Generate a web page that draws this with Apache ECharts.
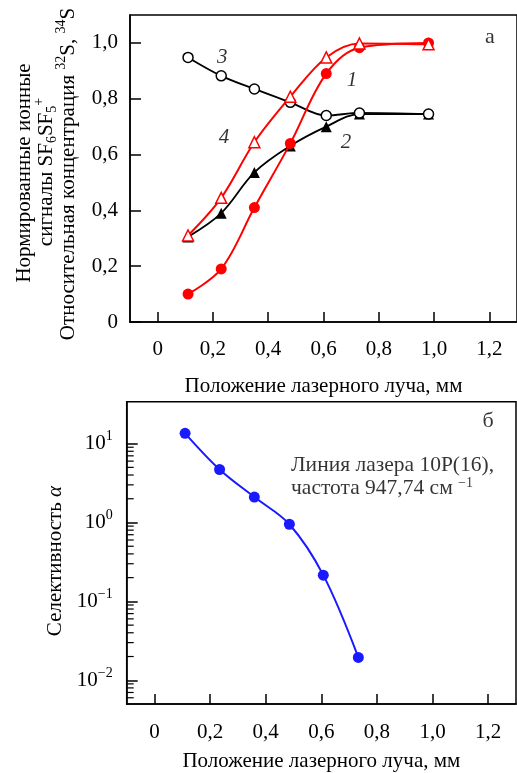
<!DOCTYPE html>
<html><head><meta charset="utf-8">
<script src="https://cdn.jsdelivr.net/npm/echarts@6/dist/echarts.min.js"></script>
<style>html,body{margin:0;padding:0;background:#fff}#c{width:517px;height:773px}</style>
</head><body><div id="c"></div>
<script>
// ---- data (top panel "а") ----
const positions = [0.11, 0.23, 0.35, 0.48, 0.61, 0.73, 0.98];
const curve1 = [0.10, 0.19, 0.41, 0.64, 0.89, 0.983, 1.0];     // red filled circles
const curve2 = [0.305, 0.39, 0.536, 0.631, 0.70, 0.745, 0.745]; // black filled triangles
const curve3 = [0.948, 0.882, 0.835, 0.787, 0.740, 0.749, 0.745]; // black open circles
const curve4 = [0.31, 0.445, 0.644, 0.807, 0.948, 0.998, 0.995]; // red open triangles
// ---- data (bottom panel "б") ----
const selPositions = [0.11, 0.234, 0.359, 0.485, 0.607, 0.733];
const selectivity = [13.5, 4.7, 2.1, 0.95, 0.215, 0.0195];
// ---- ticks ----
const xTicks = [0, 0.2, 0.4, 0.6, 0.8, 1.0, 1.2];
const yTicksTop = [0, 0.2, 0.4, 0.6, 0.8, 1.0];
const minorLogTicks = [0.006, 0.007, 0.008, 0.009,
  0.02, 0.03, 0.04, 0.05, 0.06, 0.07, 0.08, 0.09,
  0.2, 0.3, 0.4, 0.5, 0.6, 0.7, 0.8, 0.9,
  2, 3, 4, 5, 6, 7, 8, 9];
// ---- annotations ----
const topNotes = [
  {name: '3', value: [0.234, 0.947]},
  {name: '1', value: [0.703, 0.867]},
  {name: '4', value: [0.240, 0.660]},
  {name: '2', value: [0.681, 0.644]}
];
const topPanelLabel = [{name: 'а', value: [1.202, 1.021]}];
const botPanelLabel = [{name: 'б', value: [1.2, 19.2]}];
const botNote = [{name: 'note', value: [0.491, 3.8]}];

const FONT = '"Liberation Serif", "Times New Roman", serif';
const FS = 21;
const BLACK = '#000';
const RED = '#ff0000';
const BLUE = '#1a1aff';
const fmtX = v => v === 0 ? '0' : Number(v).toFixed(1).replace('.', ',');
function logLabel(v) {
  const e = Math.round(Math.log10(v));
  return '{b|10}{s|' + (e < 0 ? '\u2212' + (-e) : String(e)) + '}';
}
const txt = {fontFamily: FONT, fontSize: FS, color: BLACK};

const chart = echarts.init(document.getElementById('c'), null, {renderer: 'canvas'});

const axisLine = {onZero: false, lineStyle: {color: BLACK, width: 1.5}};
const tickStyle = {color: BLACK, width: 1.5};

const option = {
  animation: false,
  backgroundColor: '#fff',
  grid: [
    {left: 130, top: 15, width: 390.6, height: 307, show: true, borderColor: BLACK, borderWidth: 1.5, containLabel: false},
    {left: 126.7, top: 401.7, width: 389.3, height: 306, show: true, borderColor: BLACK, borderWidth: 1.5, containLabel: false}
  ],
  xAxis: [
    {
      gridIndex: 0, type: 'value', min: -0.1, max: 1.3,
      axisLine: axisLine,
      axisTick: {inside: true, length: 10, customValues: xTicks, lineStyle: tickStyle},
      axisLabel: Object.assign({customValues: xTicks, formatter: fmtX, margin: 17}, txt),
      splitLine: {show: false},
      name: 'Положение лазерного луча, мм', nameLocation: 'middle', nameGap: 54,
      nameTextStyle: txt
    },
    {
      gridIndex: 1, type: 'value', min: -0.1, max: 1.3,
      axisLine: axisLine,
      axisTick: {inside: true, length: 10, customValues: xTicks, lineStyle: tickStyle},
      axisLabel: Object.assign({customValues: xTicks, formatter: fmtX, margin: 18}, txt),
      splitLine: {show: false},
      name: 'Положение лазерного луча, мм', nameLocation: 'middle', nameGap: 47,
      nameTextStyle: txt
    }
  ],
  yAxis: [
    {
      gridIndex: 0, type: 'value', min: 0, max: 1.1,
      axisLine: axisLine,
      axisTick: {inside: true, length: 11, customValues: yTicksTop, lineStyle: tickStyle},
      axisLabel: Object.assign({customValues: yTicksTop, formatter: fmtX, margin: 12}, txt),
      splitLine: {show: false}
    },
    {
      gridIndex: 1, type: 'log', logBase: 10, min: 0.005, max: 34,
      axisLine: axisLine,
      axisTick: {inside: true, length: 11, lineStyle: tickStyle},
      axisLabel: {
        formatter: logLabel, margin: 14, showMinLabel: false, showMaxLabel: false,
        rich: {
          b: {fontFamily: FONT, fontSize: FS, color: BLACK, lineHeight: 28},
          s: {fontFamily: FONT, fontSize: 14, color: BLACK, verticalAlign: 'top', lineHeight: 14}
        }
      },
      splitLine: {show: false},
      minorTick: {show: false}
    }
  ],
  graphic: [
    {type: 'text', x: 24, y: 173, rotation: Math.PI / 2,
      style: {text: 'Нормированные ионные', font: FS + 'px ' + FONT, fill: BLACK,
        align: 'center', verticalAlign: 'middle', textAlign: 'center', textVerticalAlign: 'middle'}},
    {type: 'text', x: 46, y: 172, rotation: Math.PI / 2,
      style: {text: '{a|сигналы SF}{sub|6}{a|SF}{sub|5}{sup|+}', font: FS + 'px ' + FONT, fill: BLACK,
        align: 'center', verticalAlign: 'middle', textAlign: 'center', textVerticalAlign: 'middle',
        rich: {
          a: {fontFamily: FONT, fontSize: FS, fill: BLACK, lineHeight: 27},
          sub: {fontFamily: FONT, fontSize: 14, fill: BLACK, verticalAlign: 'bottom', lineHeight: 14},
          sup: {fontFamily: FONT, fontSize: 14, fill: BLACK, verticalAlign: 'top', lineHeight: 14}
        }}},
    {type: 'text', x: 68, y: 174, rotation: Math.PI / 2,
      style: {text: '{a|Относительная концентрация }{sup|32}{a|S, }{sup|34}{a|S}', font: FS + 'px ' + FONT, fill: BLACK,
        align: 'center', verticalAlign: 'middle', textAlign: 'center', textVerticalAlign: 'middle',
        rich: {
          a: {fontFamily: FONT, fontSize: FS, fill: BLACK, lineHeight: 27},
          sup: {fontFamily: FONT, fontSize: 14, fill: BLACK, verticalAlign: 'top', lineHeight: 14}
        }}},
    {type: 'text', x: 55, y: 561, rotation: Math.PI / 2,
      style: {text: '{a|Селективность }{i|α}', font: FS + 'px ' + FONT, fill: BLACK,
        align: 'center', verticalAlign: 'middle', textAlign: 'center', textVerticalAlign: 'middle',
        rich: {
          a: {fontFamily: FONT, fontSize: FS, fill: BLACK},
          i: {fontFamily: FONT, fontSize: FS, fontStyle: 'italic', fill: BLACK}
        }}}
  ],
  series: [
    {
      type: 'line', xAxisIndex: 0, yAxisIndex: 0, smooth: 0.35,
      data: positions.map((x, i) => [x, curve2[i]]),
      symbol: 'triangle', symbolSize: 11,
      lineStyle: {color: BLACK, width: 1.8}, itemStyle: {color: BLACK}, z: 2
    },
    {
      type: 'line', xAxisIndex: 0, yAxisIndex: 0, smooth: 0.35,
      data: positions.map((x, i) => [x, curve3[i]]),
      symbol: 'circle', symbolSize: 10,
      lineStyle: {color: BLACK, width: 1.8}, itemStyle: {color: '#fff', borderColor: BLACK, borderWidth: 1.5}, z: 3
    },
    {
      type: 'line', xAxisIndex: 0, yAxisIndex: 0, smooth: 0.35,
      data: positions.map((x, i) => [x, curve1[i]]),
      symbol: 'circle', symbolSize: 11,
      lineStyle: {color: RED, width: 2}, itemStyle: {color: RED}, z: 4
    },
    {
      type: 'line', xAxisIndex: 0, yAxisIndex: 0, smooth: 0.35,
      data: positions.map((x, i) => [x, curve4[i]]),
      symbol: 'triangle', symbolSize: 11,
      lineStyle: {color: RED, width: 2}, itemStyle: {color: '#fff', borderColor: RED, borderWidth: 1.5}, z: 5
    },
    {
      type: 'scatter', xAxisIndex: 0, yAxisIndex: 0, data: topNotes, symbolSize: 0, silent: true,
      label: {show: true, position: 'inside', formatter: p => p.name, fontFamily: FONT, fontSize: FS, fontStyle: 'italic', color: BLACK}
    },
    {
      type: 'scatter', xAxisIndex: 0, yAxisIndex: 0, data: topPanelLabel, symbolSize: 0, silent: true,
      label: {show: true, position: 'inside', formatter: p => p.name, fontFamily: FONT, fontSize: 22, color: BLACK}
    },
    {
      type: 'line', xAxisIndex: 1, yAxisIndex: 1, smooth: 0.35,
      data: selPositions.map((x, i) => [x, selectivity[i]]),
      symbol: 'circle', symbolSize: 11,
      lineStyle: {color: BLUE, width: 2}, itemStyle: {color: BLUE}
    },
    {
      type: 'custom', xAxisIndex: 1, yAxisIndex: 1, silent: true,
      data: minorLogTicks.map(v => [-0.1, v]),
      renderItem: function (params, api) {
        const p = api.coord([api.value(0), api.value(1)]);
        return {type: 'line', shape: {x1: p[0], y1: p[1], x2: p[0] + 7, y2: p[1]},
          style: {stroke: BLACK, lineWidth: 1.2}};
      }
    },
    {
      type: 'scatter', xAxisIndex: 1, yAxisIndex: 1, data: botPanelLabel, symbolSize: 0, silent: true,
      label: {show: true, position: 'inside', formatter: p => p.name, fontFamily: FONT, fontSize: 22, color: BLACK}
    },
    {
      type: 'scatter', xAxisIndex: 1, yAxisIndex: 1, data: botNote, symbolSize: 0, silent: true,
      label: {show: true, position: 'right', distance: 0, align: 'left',
        formatter: '{t|Линия лазера 10P(16),}\n{t|частота 947,74 см }{s|\u22121}',
        rich: {
          t: {fontFamily: FONT, fontSize: 21.5, color: BLACK, lineHeight: 23},
          s: {fontFamily: FONT, fontSize: 14, color: BLACK, verticalAlign: 'top', lineHeight: 14}
        }}
    }
  ]
};
chart.setOption(option);
</script>
</body></html>
